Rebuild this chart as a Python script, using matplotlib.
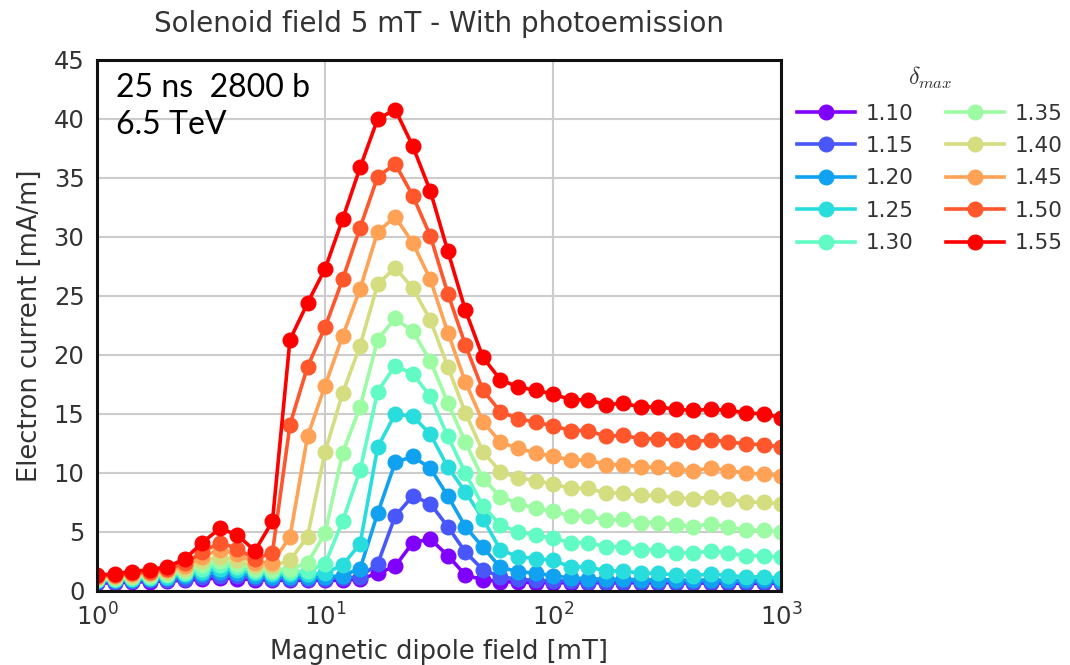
import numpy as np
import matplotlib
matplotlib.use("Agg")
import matplotlib.pyplot as plt

# dipole field points (mT), 13 per decade from 1 to 1000
field = np.logspace(0, 3, 40)

dmax = ["1.10", "1.15", "1.20", "1.25", "1.30", "1.35", "1.40", "1.45", "1.50", "1.55"]

i110 = [0.65, 0.7, 0.75, 0.8, 0.85, 0.9, 1.0, 1.1, 1.05, 0.95, 0.9,
        0.9, 0.9, 0.9, 0.9, 1.0, 1.5, 2.1, 4.1, 4.4, 3.0, 1.35, 0.95,
        0.8, 0.75, 0.7, 0.7, 0.7, 0.7, 0.7, 0.7, 0.7,
        0.7, 0.7, 0.65, 0.7, 0.65, 0.65, 0.65, 0.65]
i115 = [0.75, 0.8, 0.85, 0.9, 0.95, 1.05, 1.2, 1.3, 1.25, 1.1, 1.05,
        1.05, 1.05, 1.05, 1.1, 1.2, 2.3, 6.35, 8.05, 7.4, 5.45, 3.3, 1.8,
        1.2, 1.0, 0.9, 0.85, 0.85, 0.8, 0.8, 0.8, 0.8,
        0.8, 0.8, 0.75, 0.8, 0.75, 0.75, 0.75, 0.75]
i120 = [0.85, 0.9, 0.95, 1.0, 1.1, 1.25, 1.45, 1.6, 1.5, 1.3, 1.2,
        1.2, 1.2, 1.2, 1.3, 1.9, 6.6, 10.9, 11.4, 10.4, 8.05, 5.45, 3.7,
        2.0, 1.65, 1.5, 1.3, 1.1, 1.05, 1.0, 1.0, 0.95,
        0.95, 0.95, 0.9, 0.95, 0.9, 0.9, 0.9, 0.85]
i125 = [0.9, 0.95, 1.0, 1.1, 1.2, 1.4, 1.65, 1.9, 1.75, 1.5, 1.4,
        1.4, 1.4, 1.5, 2.2, 4.0, 12.2, 15.0, 14.8, 13.3, 10.5, 8.4, 6.1,
        3.5, 2.9, 2.75, 2.6, 2.05, 2.05, 1.7, 1.7, 1.5,
        1.5, 1.35, 1.3, 1.45, 1.3, 1.2, 1.2, 1.1]
i130 = [0.95, 1.0, 1.1, 1.2, 1.35, 1.55, 1.9, 2.2, 2.0, 1.7, 1.6,
        1.6, 1.7, 2.3, 5.9, 10.25, 16.9, 19.1, 18.4, 16.5, 13.1, 10.0, 7.2,
        5.6, 5.0, 4.75, 4.45, 4.1, 4.1, 3.75, 3.75, 3.5,
        3.5, 3.25, 3.2, 3.4, 3.2, 3.0, 3.0, 2.85]
i135 = [1.0, 1.1, 1.2, 1.3, 1.45, 1.7, 2.2, 2.5, 2.3, 1.9, 1.8,
        1.9, 2.35, 4.9, 11.7, 15.6, 21.3, 23.1, 22.0, 19.5, 15.95, 12.6, 9.5,
        8.0, 7.4, 7.0, 6.75, 6.35, 6.35, 6.0, 6.1, 5.8,
        5.8, 5.6, 5.45, 5.7, 5.4, 5.15, 5.15, 5.0]
i140 = [1.1, 1.2, 1.3, 1.45, 1.6, 1.9, 2.5, 2.9, 2.6, 2.1, 2.1,
        2.6, 4.6, 11.8, 16.75, 20.8, 26.0, 27.4, 25.65, 22.97, 19.0, 15.1, 11.8,
        10.1, 9.6, 9.35, 9.07, 8.7, 8.7, 8.3, 8.3, 8.1,
        8.1, 7.9, 7.8, 8.0, 7.8, 7.55, 7.5, 7.4]
i145 = [1.2, 1.3, 1.4, 1.55, 1.75, 2.1, 2.9, 3.5, 3.1, 2.4, 2.4,
        4.6, 13.1, 17.4, 21.6, 25.6, 30.45, 31.7, 29.5, 26.4, 21.9, 17.7, 14.35,
        12.6, 12.1, 11.7, 11.4, 11.1, 11.1, 10.7, 10.7, 10.5,
        10.5, 10.3, 10.2, 10.4, 10.2, 10.0, 9.9, 9.75]
i150 = [1.25, 1.35, 1.5, 1.65, 1.9, 2.35, 3.3, 4.1, 3.6, 2.7, 3.25,
        14.1, 19.0, 22.35, 26.4, 30.8, 35.1, 36.2, 33.5, 30.1, 25.2, 20.85, 17.0,
        15.2, 14.6, 14.3, 14.0, 13.6, 13.6, 13.1, 13.2, 12.9,
        12.9, 12.8, 12.65, 12.8, 12.65, 12.45, 12.4, 12.2]
i155 = [1.35, 1.45, 1.65, 1.8, 2.05, 2.7, 4.1, 5.3, 4.75, 3.4, 5.9,
        21.3, 24.4, 27.3, 31.5, 35.9, 40.0, 40.8, 37.7, 33.9, 28.8, 23.8, 19.8,
        17.9, 17.3, 17.0, 16.7, 16.2, 16.2, 15.8, 15.9, 15.6,
        15.6, 15.4, 15.3, 15.4, 15.3, 15.1, 15.0, 14.7]

currents = [i110, i115, i120, i125, i130, i135, i140, i145, i150, i155]

fig = plt.figure(figsize=(10.7, 6.65), dpi=100)
ax = fig.add_axes([0.0907, 0.1113, 0.6393, 0.7985])

colors = plt.cm.rainbow(np.linspace(0, 1, len(dmax)))
for k in range(len(dmax)):
    ax.plot(field, currents[k], '-o', color=colors[k], lw=2.6, ms=10.5,
            label=dmax[k])

ax.set_xscale('log')
ax.set_xlim(1, 1000)
ax.set_ylim(0, 45)
ax.set_yticks(np.arange(0, 46, 5))
ax.minorticks_off()
ax.grid(True, color='#cccccc', lw=1.5)
ax.set_axisbelow(True)
for s in ax.spines.values():
    s.set_color('#111111')
    s.set_linewidth(2.2)
ax.tick_params(labelsize=17.5, colors='#333333', length=0, pad=9)

ax.set_xlabel("Magnetic dipole field [mT]", fontsize=18.5, color='#333333',
              labelpad=6)
ax.set_ylabel("Electron current [mA/m]", fontsize=18.5, color='#333333',
              labelpad=8)
ax.set_title("Solenoid field 5 mT - With photoemission", fontsize=20,
             color='#333333', pad=20)

ax.text(0.028, 0.975, "25 ns  2800 b\n6.5 TeV", transform=ax.transAxes,
        ha='left', va='top', fontsize=23, family='Lato', linespacing=1.3)

leg = ax.legend(title=r'$\delta_{max}$', ncol=2, frameon=False,
                loc='upper left', bbox_to_anchor=(0.995, 1.027),
                fontsize=15.5, title_fontsize=17, handlelength=2.7,
                handletextpad=0.5, columnspacing=1.5, labelspacing=0.58)
for t in leg.get_texts():
    t.set_color('#333333')
leg.get_title().set_color('#333333')
leg.get_title().set_math_fontfamily('cm')

plt.savefig("out.png", dpi=100)
